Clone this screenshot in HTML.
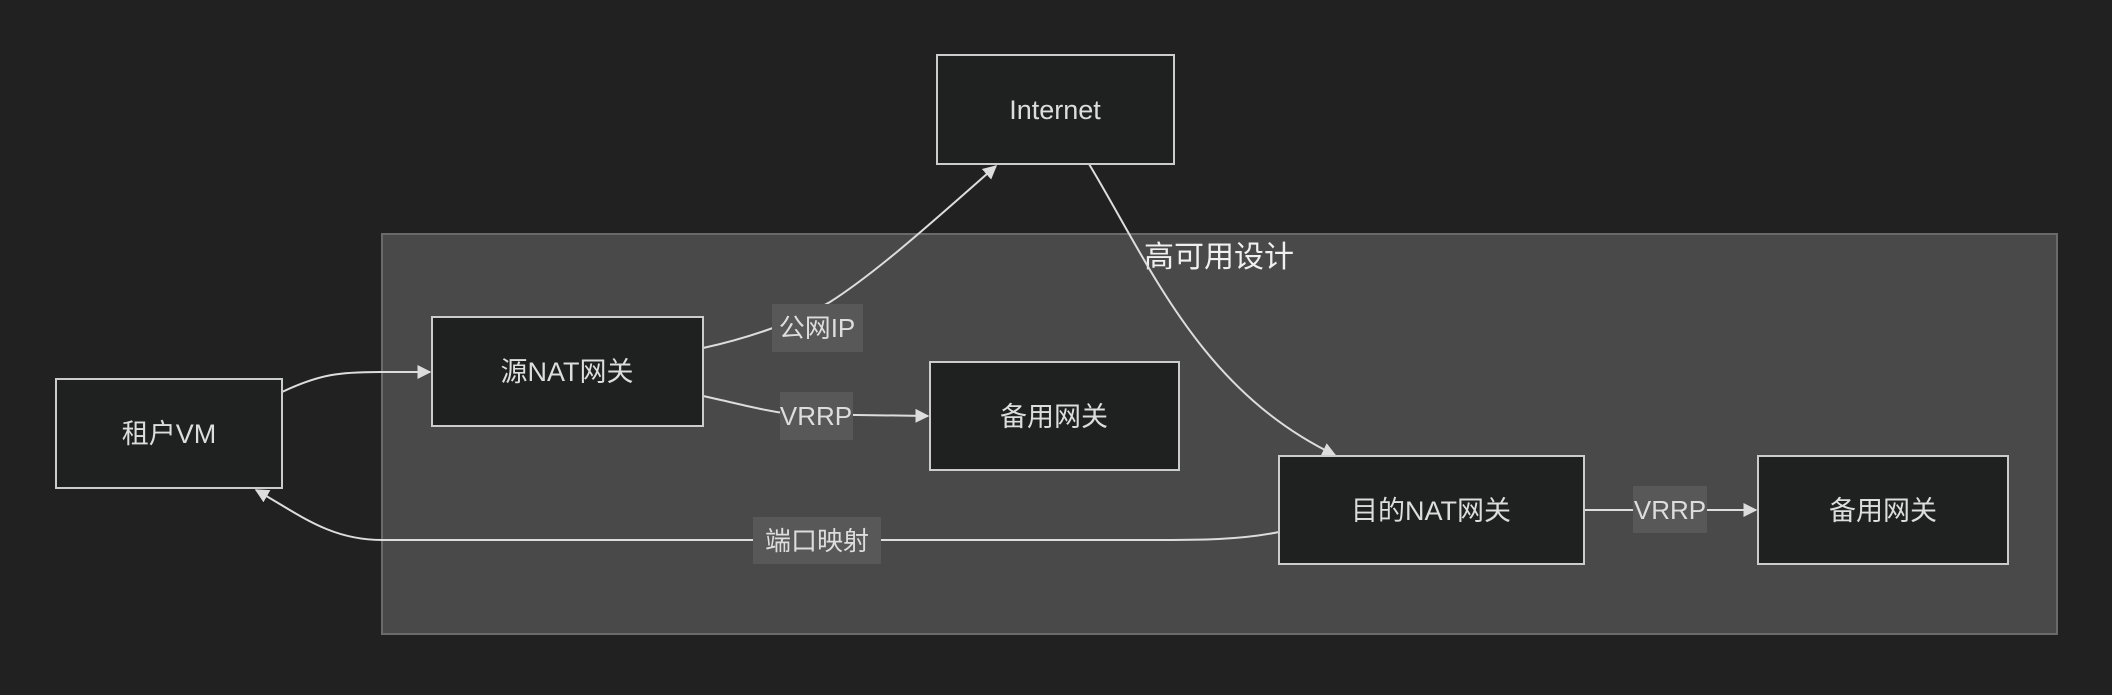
<!DOCTYPE html>
<html><head><meta charset="utf-8"><style>
html,body{margin:0;padding:0;background:#212121;}
svg text{font-family:"Liberation Sans","Noto Sans CJK SC",sans-serif;fill:#ddd;}
</style></head><body>
<svg width="2112" height="690" viewBox="0 0 2112 690" xmlns="http://www.w3.org/2000/svg">
<defs><marker id="a" viewBox="0 0 10 10" refX="9" refY="5" markerWidth="10" markerHeight="10" markerUnits="userSpaceOnUse" orient="auto"><path d="M0,0L10,5L0,10z" fill="#ddd"/></marker>
<marker id="b" viewBox="0 0 10 10" refX="9" refY="5" markerWidth="14" markerHeight="14" markerUnits="userSpaceOnUse" orient="auto"><path d="M0,0L10,5L0,10z" fill="#ddd"/></marker></defs>
<rect x="382" y="234" width="1675" height="400" fill="#484948" stroke="#6a6a6a" stroke-width="2"/>
<text x="1219" y="267" font-size="30" text-anchor="middle" fill="#fff" style="fill:#f0f0f0">高可用设计</text>
<g fill="none" stroke="#ddd" stroke-width="2">
<path d="M282,392 C320,374 340,372 380,372 L430,372" marker-end="url(#b)"/>
<path d="M703,348 C740,340 790,325 830,302 C880,270 940,215 996,166" marker-end="url(#b)"/>
<path d="M703,396 C740,404 760,410 790,414 L928,416" marker-end="url(#b)"/>
<path d="M1089,164 C1150,265 1200,390 1335,455" marker-end="url(#b)"/>
<path d="M1279,532 C1240,540 1200,540 1150,540 L382,540 C330,540 300,515 256,490" marker-end="url(#b)"/>
<path d="M1584,510 L1756,510" marker-end="url(#b)"/>
</g>
<g fill="#1f2020" stroke="#ccc" stroke-width="2">
<rect x="56" y="379" width="226" height="109"/>
<rect x="432" y="317" width="271" height="109"/>
<rect x="937" y="55" width="237" height="109"/>
<rect x="930" y="362" width="249" height="108"/>
<rect x="1279" y="456" width="305" height="108"/>
<rect x="1758" y="456" width="250" height="108"/>
</g>
<g font-size="27" text-anchor="middle">
<text x="169" y="443">租户VM</text>
<text x="567" y="381">源NAT网关</text>
<text x="1055" y="119">Internet</text>
<text x="1054" y="426">备用网关</text>
<text x="1431" y="520">目的NAT网关</text>
<text x="1883" y="520">备用网关</text>
</g>
<g fill="#585858">
<rect x="772" y="304" width="91" height="48"/>
<rect x="780" y="392" width="73" height="48"/>
<rect x="753" y="517" width="128" height="47"/>
<rect x="1633" y="486" width="74" height="47"/>
</g>
<g font-size="26" text-anchor="middle">
<text x="817" y="337">公网IP</text>
<text x="816" y="425">VRRP</text>
<text x="817" y="550">端口映射</text>
<text x="1670" y="519">VRRP</text>
</g>
</svg>
</body></html>
